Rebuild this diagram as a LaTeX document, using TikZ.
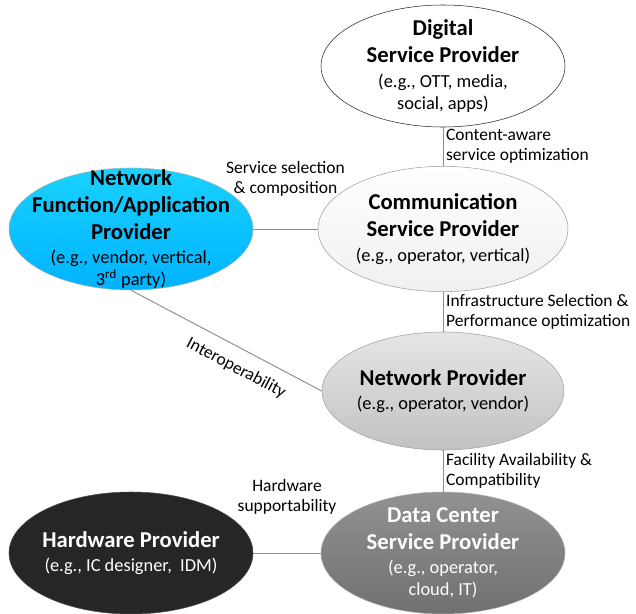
\documentclass[tikz,border=0pt]{standalone}
\usepackage{fontspec}
\setmainfont{Carlito}
\usetikzlibrary{shapes}
\tikzset{
	prov/.style={ellipse, draw=gray!75, inner sep=0pt, minimum width=183pt, minimum height=91.5pt},
	txt/.style={align=center, inner sep=0pt, font=\fontsize{13.8}{16.5}\selectfont},
	lbl/.style={font=\fontsize{13.1}{15}\selectfont, inner sep=2pt},
	link/.style={draw=gray!90, line width=0.7pt},
}
\newcommand{\ttl}[1]{{\fontsize{17}{20}\selectfont\bfseries #1}}

\begin{document}
\begin{tikzpicture}[x=0.75pt, y=-0.75pt]
        \useasboundingbox (0,0) rectangle (636,614);

        % providers
        \node[prov, draw=black!85, fill=white,
              label={[txt]center:{\ttl{Digital}\\[3.75pt]\ttl{Service Provider}\\[2pt](e.g., OTT, media,\\social, apps)}}]
              (dsp) at (443,66) {};
        \node[prov, top color=white, bottom color=black!6, minimum width=187.5pt, minimum height=94pt,
              label={[txt]center:{\ttl{Communication}\\[3.75pt]\ttl{Service Provider}\\[2pt](e.g., operator, vertical)}}]
              (csp) at (443,229) {};
        \node[prov, top color=cyan!80!blue!90, bottom color=cyan!70!blue, draw=gray!60,
              label={[txt]center:{\ttl{Network}\\[3.75pt]\ttl{Function/Application}\\[3.75pt]\ttl{Provider}\\[2pt](e.g., vendor, vertical,\\3\textsuperscript{rd} party)}}]
              (nfap) at (131,229) {};
        \node[prov, top color=black!10, bottom color=black!24, minimum width=181.5pt, minimum height=88.5pt,
              label={[txt]center:{\ttl{Network Provider}\\[2pt](e.g., operator, vendor)}}]
              (np) at (443,391) {};
        \node[prov, fill=black!85, draw=black!70,
              label={[txt, text=white]center:{\ttl{Hardware Provider}\\[1pt](e.g., IC designer,\ \ IDM)}}]
              (hp) at (131,553) {};
        \node[prov, top color=black!43, bottom color=black!56, draw=gray!60,
              label={[txt, text=white]center:{\ttl{Data Center}\\[3.75pt]\ttl{Service Provider}\\[2pt](e.g., operator,\\cloud, IT)}}]
              (dc) at (443,553) {};

        % relations
        \draw[link] (dsp) -- node[lbl, right, align=left] {Content-aware\\service optimization} (csp);
        \draw[link] (csp) -- node[lbl, right, align=left] {Infrastructure Selection \&\\Performance optimization} (np);
        \draw[link] (np) -- node[lbl, right, align=left] {Facility Availability \&\\Compatibility} (dc);
        \draw[link] (nfap) -- node[lbl, above=22pt, align=center] {Service selection\\\& composition} (csp);
        \draw[link] (hp) -- node[lbl, above=27pt, align=center] {Hardware\\supportability} (dc);
        \draw[link] (nfap.south) -- node[lbl, below=7pt, sloped, pos=0.6] {Interoperability} (np.west);
    \end{tikzpicture}
\end{document}
